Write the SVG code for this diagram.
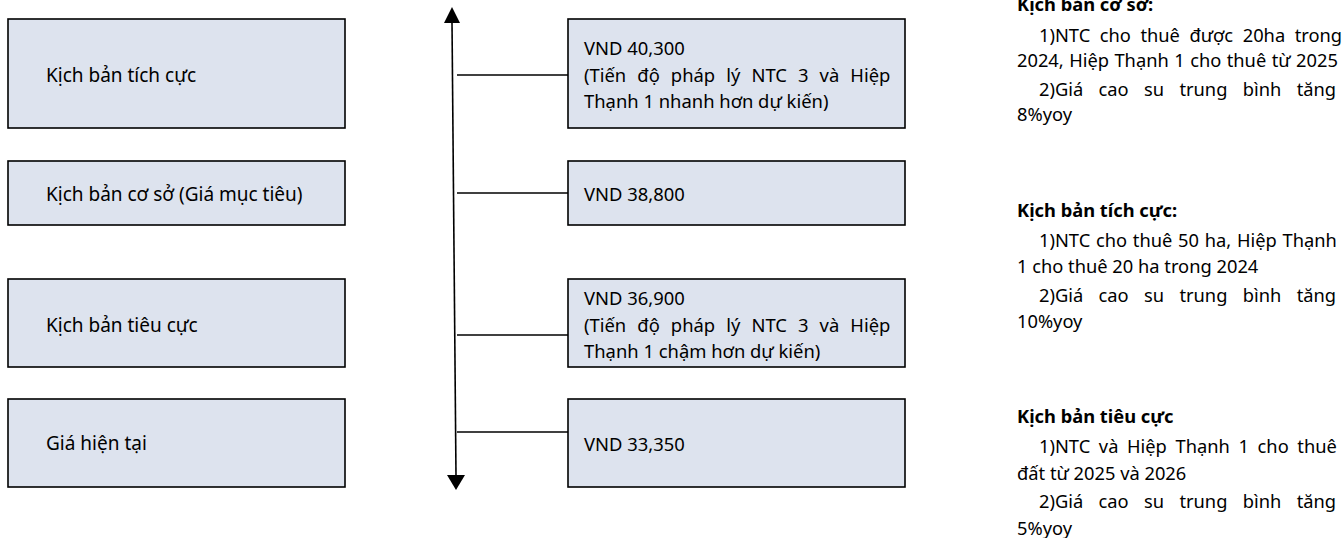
<svg xmlns="http://www.w3.org/2000/svg" width="1342" height="538" viewBox="0 0 1342 538">
<style>
.box{fill:#DDE3EE;stroke:#000;stroke-width:1.6}
.lbl{font-family:"Noto Sans","DejaVu Sans",sans-serif;font-size:19px;fill:#000}
.val{font-family:"Noto Sans","DejaVu Sans",sans-serif;font-size:18.4px;fill:#000}
.note{font-family:"Noto Sans","DejaVu Sans",sans-serif;font-size:18.3px;fill:#000}
.hd{font-weight:bold}
.conn{stroke:#000;stroke-width:1.6;fill:none}
</style>
<rect width="1342" height="538" fill="#fff"/>
<g id="connectors">
<line class="conn" x1="452" y1="22" x2="456" y2="476" stroke="#222" stroke-width="1.4"/>
<polygon points="452,7 444,23 460,23" fill="#000"/>
<polygon points="456,490 447,475 465,475" fill="#000"/>
<line class="conn" x1="457" y1="75" x2="568" y2="75"/>
<line class="conn" x1="457" y1="193" x2="568" y2="193"/>
<line class="conn" x1="457" y1="335" x2="568" y2="335"/>
<line class="conn" x1="457" y1="432" x2="568" y2="432"/>
</g>
<g id="scenario-positive"><rect class="box" x="8" y="19" width="337" height="109"/><text class="lbl" x="46" y="82">Kịch bản tích cực</text></g>
<g id="scenario-base"><rect class="box" x="8" y="161" width="337" height="64"/><text class="lbl" x="46" y="201">Kịch bản cơ sở (Giá mục tiêu)</text></g>
<g id="scenario-negative"><rect class="box" x="8" y="279" width="337" height="88"/><text class="lbl" x="46" y="332">Kịch bản tiêu cực</text></g>
<g id="current-price"><rect class="box" x="8" y="399" width="337" height="88"/><text class="lbl" x="46" y="450">Giá hiện tại</text></g>
<g id="price-positive"><rect class="box" x="568" y="19" width="337" height="109"/>
<text class="val" x="584" y="55">VND 40,300</text>
<text class="val" x="584" y="82" word-spacing="6.3">(Tiến độ pháp lý NTC 3 và Hiệp</text>
<text class="val" x="584" y="108">Thạnh 1 nhanh hơn dự kiến)</text></g>
<g id="price-base"><rect class="box" x="568" y="161" width="337" height="64"/><text class="val" x="584" y="201">VND 38,800</text></g>
<g id="price-negative"><rect class="box" x="568" y="279" width="337" height="88"/>
<text class="val" x="584" y="305">VND 36,900</text>
<text class="val" x="584" y="332" word-spacing="6.3">(Tiến độ pháp lý NTC 3 và Hiệp</text>
<text class="val" x="584" y="358">Thạnh 1 chậm hơn dự kiến)</text></g>
<g id="price-current"><rect class="box" x="568" y="399" width="337" height="88"/><text class="val" x="584" y="451">VND 33,350</text></g>
<g id="notes">
<text class="note hd" x="1017" y="11">Kịch bản cơ sở:</text>
<text class="note" x="1039" y="42" word-spacing="4.8">1)NTC cho thuê được 20ha trong</text>
<text class="note" x="1017" y="67" word-spacing="0.7">2024, Hiệp Thạnh 1 cho thuê từ 2025</text>
<text class="note" x="1039" y="96" word-spacing="10.6">2)Giá cao su trung bình tăng</text>
<text class="note" x="1017" y="121">8%yoy</text>
<text class="note hd" x="1017" y="217">Kịch bản tích cực:</text>
<text class="note" x="1039" y="247" word-spacing="1">1)NTC cho thuê 50 ha, Hiệp Thạnh</text>
<text class="note" x="1017" y="273">1 cho thuê 20 ha trong 2024</text>
<text class="note" x="1039" y="302" word-spacing="10.6">2)Giá cao su trung bình tăng</text>
<text class="note" x="1017" y="328">10%yoy</text>
<text class="note hd" x="1017" y="423">Kịch bản tiêu cực</text>
<text class="note" x="1039" y="453" word-spacing="3.9">1)NTC và Hiệp Thạnh 1 cho thuê</text>
<text class="note" x="1017" y="480">đất từ 2025 và 2026</text>
<text class="note" x="1039" y="508" word-spacing="10.6">2)Giá cao su trung bình tăng</text>
<text class="note" x="1017" y="535">5%yoy</text>
</g>
</svg>
